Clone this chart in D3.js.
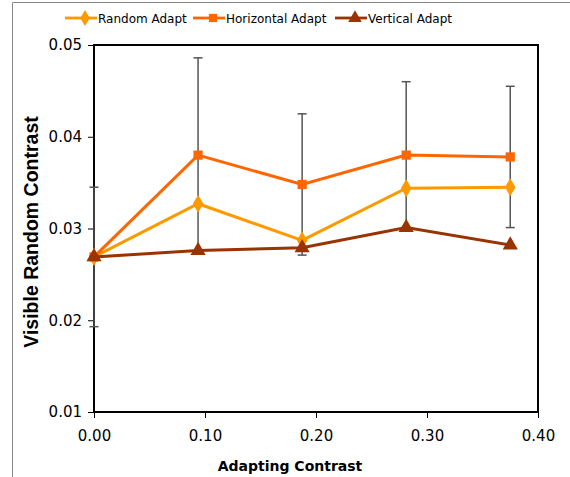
<!DOCTYPE html>
<html lang="en">
<head>
<meta charset="UTF-8">
<title>Visible Random Contrast</title>
<style>
  body { margin: 0; background: #fff; }
  svg { display: block; }
  .tick-label { font-family: "DejaVu Sans", Verdana, sans-serif; font-size: 15px; fill: #000; }
  .legend-text { font-family: "DejaVu Sans", Verdana, sans-serif; font-size: 12px; fill: #000; }
</style>
</head>
<body>
<div id="chart"></div>
<script src="https://d3js.org/d3.v7.min.js"></script>
<script>
// adapting contrast (x) for all three series
const adaptContrast = [0, 0.09375, 0.1875, 0.28125, 0.375];
const randomAdapt = [0.0269, 0.0327, 0.0287, 0.0344, 0.0345];
const horizontalAdapt = [0.0269, 0.0380, 0.0348, 0.0380, 0.0378];
const verticalAdapt = [0.0269, 0.0276, 0.0279, 0.0301, 0.0282];
// error bar half-width, drawn on the horizontal series
const horizontalErr = [0.0076, 0.0106, 0.0077, 0.0080, 0.0077];
const xTicks = [0, 0.1, 0.2, 0.3, 0.4];
const yTicks = [0.01, 0.02, 0.03, 0.04, 0.05];

const seriesNames = ["Random Adapt", "Horizontal Adapt", "Vertical Adapt"];
const seriesColors = ["#ff9900", "#ff6600", "#993300"];
const seriesShapes = [d3.symbolDiamond, d3.symbolSquare, d3.symbolTriangle];
const seriesValues = [randomAdapt, horizontalAdapt, verticalAdapt];

const width = 570, height = 477;
const plot = { left: 94, top: 45, right: 538, bottom: 412 };

const svg = d3.select('#chart').append('svg')
  .attr('width', width)
  .attr('height', height);

// outer frame (left and top edges visible)
svg.append('path')
  .attr('d', `M12.5,${height} V2.5 H${width}`)
  .attr('fill', 'none')
  .attr('stroke', '#888')
  .attr('stroke-width', 1);

const x = d3.scaleLinear().domain([0, 0.4]).range([plot.left, plot.right]);
const y = d3.scaleLinear().domain([0.01, 0.05]).range([plot.bottom, plot.top]);

// axes
const xAxis = svg.append('g')
  .attr('transform', `translate(0,${plot.bottom})`)
  .call(d3.axisBottom(x).tickValues(xTicks).tickSize(6).tickPadding(12).tickFormat(d3.format('.2f')));
const yAxis = svg.append('g')
  .attr('transform', `translate(${plot.left},0)`)
  .call(d3.axisLeft(y).tickValues(yTicks).tickSize(6).tickPadding(6).tickFormat(d3.format('.2f')));
[xAxis, yAxis].forEach(a => {
  a.select('.domain').remove();
  a.selectAll('.tick line').attr('stroke', '#000');
  a.selectAll('.tick text').attr('class', 'tick-label').attr('fill', '#000');
});

// plot box
svg.append('rect')
  .attr('x', plot.left)
  .attr('y', plot.top)
  .attr('width', plot.right - plot.left)
  .attr('height', plot.bottom - plot.top)
  .attr('fill', 'none')
  .attr('stroke', '#000')
  .attr('stroke-width', 2);

// error bars
const eb = svg.append('g').attr('stroke', '#555').attr('stroke-width', 1.5);
adaptContrast.forEach((xv, i) => {
  const lo = horizontalAdapt[i] - horizontalErr[i];
  const hi = horizontalAdapt[i] + horizontalErr[i];
  const cx = x(xv);
  eb.append('line').attr('x1', cx).attr('x2', cx).attr('y1', y(lo)).attr('y2', y(hi));
  eb.append('line').attr('x1', cx - 4.5).attr('x2', cx + 4.5).attr('y1', y(lo)).attr('y2', y(lo));
  eb.append('line').attr('x1', cx - 4.5).attr('x2', cx + 4.5).attr('y1', y(hi)).attr('y2', y(hi));
});

const line = d3.line().x(d => x(d[0])).y(d => y(d[1]));
const symSizes = [95, 85, 100];

seriesValues.forEach((vals, s) => {
  const pts = adaptContrast.map((xv, i) => [xv, vals[i]]);
  svg.append('path')
    .datum(pts)
    .attr('d', line)
    .attr('fill', 'none')
    .attr('stroke', seriesColors[s])
    .attr('stroke-width', 3);
  svg.selectAll(null)
    .data(pts)
    .enter()
    .append('path')
    .attr('d', d3.symbol().type(seriesShapes[s]).size(symSizes[s]))
    .attr('transform', d => `translate(${x(d[0])},${y(d[1])})`)
    .attr('fill', seriesColors[s]);
});

// legend
const legendX = [65, 193, 335];
seriesNames.forEach((name, s) => {
  const g = svg.append('g').attr('transform', `translate(${legendX[s]},18)`);
  g.append('line').attr('x1', 0).attr('x2', 32).attr('y1', 0).attr('y2', 0)
    .attr('stroke', seriesColors[s]).attr('stroke-width', 2.8);
  g.append('path')
    .attr('d', d3.symbol().type(seriesShapes[s]).size(symSizes[s] * 0.8))
    .attr('transform', 'translate(20,0)')
    .attr('fill', seriesColors[s]);
  g.append('text')
    .attr('class', 'legend-text')
    .attr('x', 33)
    .attr('y', 4.5)
    .text(name);
});

// axis titles
svg.append('text')
  .attr('x', (plot.left + plot.right) / 2 - 26)
  .attr('y', 471)
  .attr('text-anchor', 'middle')
  .style('font-family', '"DejaVu Sans", Verdana, sans-serif')
  .style('font-size', '14px')
  .style('font-weight', 'bold')
  .text('Adapting Contrast');

svg.append('text')
  .attr('transform', 'rotate(-90)')
  .attr('x', -232)
  .attr('y', 38)
  .attr('text-anchor', 'middle')
  .style('font-family', '"Liberation Sans", Arial, sans-serif')
  .style('font-size', '19.5px')
  .style('font-weight', 'bold')
  .text('Visible Random Contrast');
</script>
</body>
</html>
